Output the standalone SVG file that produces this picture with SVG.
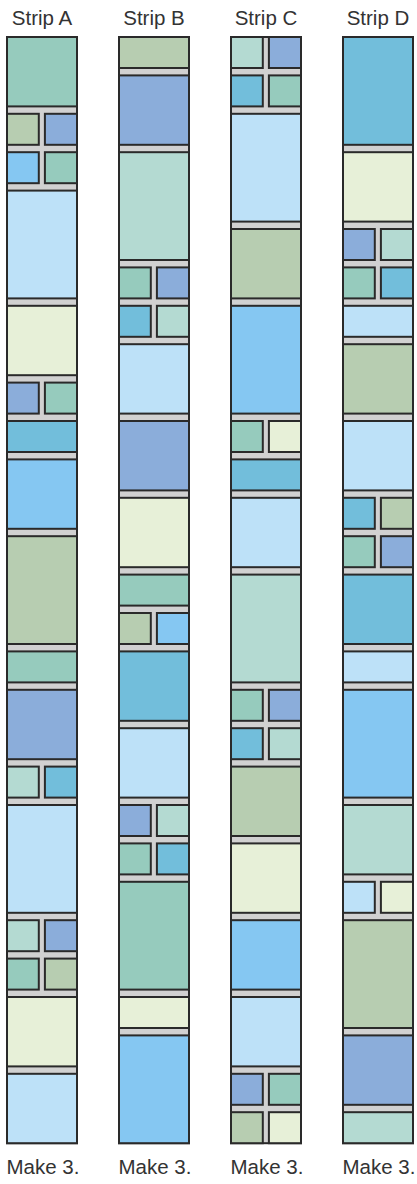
<svg xmlns="http://www.w3.org/2000/svg" width="417" height="1184" viewBox="0 0 417 1184">
<style>
rect{stroke:#2a2a2a;stroke-width:2}
.bg{fill:#d1d1d1}
.t{fill:#96cbbd}.g{fill:#b7cdb1}.b{fill:#8badda}.k{fill:#85c7f2}
.l{fill:#b4dad2}.c{fill:#72bedb}.w{fill:#bde1f8}.y{fill:#e7f0d8}
text{font-family:"Liberation Sans",Arial,sans-serif;font-size:20.5px;fill:#333;text-anchor:middle}
</style>
<rect width="417" height="1184" fill="#fff" style="stroke:none"/>
<g id="labels">
<text x="42" y="25">Strip A</text><text x="154" y="25">Strip B</text><text x="266" y="25">Strip C</text><text x="378" y="25">Strip D</text>
<text x="43" y="1174">Make 3.</text><text x="155" y="1174">Make 3.</text><text x="267" y="1174">Make 3.</text><text x="379" y="1174">Make 3.</text>
</g>
<g id="stripA" transform="translate(7,0)">
<rect class="bg" x="0" y="37" width="70" height="1106.2"/>
<rect class="t" x="0" y="37" width="70" height="69.4"/>
<rect class="g" x="0" y="113.8" width="31.8" height="31"/><rect class="b" x="37.9" y="113.8" width="32.1" height="31"/>
<rect class="k" x="0" y="152.2" width="31.8" height="31"/><rect class="t" x="37.9" y="152.2" width="32.1" height="31"/>
<rect class="w" x="0" y="190.6" width="70" height="107.8"/>
<rect class="y" x="0" y="305.8" width="70" height="69.4"/>
<rect class="b" x="0" y="382.6" width="31.8" height="31"/><rect class="t" x="37.9" y="382.6" width="32.1" height="31"/>
<rect class="c" x="0" y="421" width="70" height="31"/>
<rect class="k" x="0" y="459.4" width="70" height="69.4"/>
<rect class="g" x="0" y="536.2" width="70" height="107.8"/>
<rect class="t" x="0" y="651.4" width="70" height="31"/>
<rect class="b" x="0" y="689.8" width="70" height="69.4"/>
<rect class="l" x="0" y="766.6" width="31.8" height="31"/><rect class="c" x="37.9" y="766.6" width="32.1" height="31"/>
<rect class="w" x="0" y="805" width="70" height="107.8"/>
<rect class="l" x="0" y="920.2" width="31.8" height="31"/><rect class="b" x="37.9" y="920.2" width="32.1" height="31"/>
<rect class="t" x="0" y="958.6" width="31.8" height="31"/><rect class="g" x="37.9" y="958.6" width="32.1" height="31"/>
<rect class="y" x="0" y="997" width="70" height="69.4"/>
<rect class="w" x="0" y="1073.8" width="70" height="69.4"/>
</g>
<g id="stripB" transform="translate(119,0)">
<rect class="bg" x="0" y="37" width="70" height="1106.2"/>
<rect class="g" x="0" y="37" width="70" height="31"/>
<rect class="b" x="0" y="75.4" width="70" height="69.4"/>
<rect class="l" x="0" y="152.2" width="70" height="107.8"/>
<rect class="t" x="0" y="267.4" width="31.8" height="31"/><rect class="b" x="37.9" y="267.4" width="32.1" height="31"/>
<rect class="c" x="0" y="305.8" width="31.8" height="31"/><rect class="l" x="37.9" y="305.8" width="32.1" height="31"/>
<rect class="w" x="0" y="344.2" width="70" height="69.4"/>
<rect class="b" x="0" y="421" width="70" height="69.4"/>
<rect class="y" x="0" y="497.8" width="70" height="69.4"/>
<rect class="t" x="0" y="574.6" width="70" height="31"/>
<rect class="g" x="0" y="613" width="31.8" height="31"/><rect class="k" x="37.9" y="613" width="32.1" height="31"/>
<rect class="c" x="0" y="651.4" width="70" height="69.4"/>
<rect class="w" x="0" y="728.2" width="70" height="69.4"/>
<rect class="b" x="0" y="805" width="31.8" height="31"/><rect class="l" x="37.9" y="805" width="32.1" height="31"/>
<rect class="t" x="0" y="843.4" width="31.8" height="31"/><rect class="c" x="37.9" y="843.4" width="32.1" height="31"/>
<rect class="t" x="0" y="881.8" width="70" height="107.8"/>
<rect class="y" x="0" y="997" width="70" height="31"/>
<rect class="k" x="0" y="1035.4" width="70" height="107.8"/>
</g>
<g id="stripC" transform="translate(231,0)">
<rect class="bg" x="0" y="37" width="70" height="1106.2"/>
<rect class="l" x="0" y="37" width="31.8" height="31"/><rect class="b" x="37.9" y="37" width="32.1" height="31"/>
<rect class="c" x="0" y="75.4" width="31.8" height="31"/><rect class="t" x="37.9" y="75.4" width="32.1" height="31"/>
<rect class="w" x="0" y="113.8" width="70" height="107.8"/>
<rect class="g" x="0" y="229" width="70" height="69.4"/>
<rect class="k" x="0" y="305.8" width="70" height="107.8"/>
<rect class="t" x="0" y="421" width="31.8" height="31"/><rect class="y" x="37.9" y="421" width="32.1" height="31"/>
<rect class="c" x="0" y="459.4" width="70" height="31"/>
<rect class="w" x="0" y="497.8" width="70" height="69.4"/>
<rect class="l" x="0" y="574.6" width="70" height="107.8"/>
<rect class="t" x="0" y="689.8" width="31.8" height="31"/><rect class="b" x="37.9" y="689.8" width="32.1" height="31"/>
<rect class="c" x="0" y="728.2" width="31.8" height="31"/><rect class="l" x="37.9" y="728.2" width="32.1" height="31"/>
<rect class="g" x="0" y="766.6" width="70" height="69.4"/>
<rect class="y" x="0" y="843.4" width="70" height="69.4"/>
<rect class="k" x="0" y="920.2" width="70" height="69.4"/>
<rect class="w" x="0" y="997" width="70" height="69.4"/>
<rect class="b" x="0" y="1073.8" width="31.8" height="31"/><rect class="t" x="37.9" y="1073.8" width="32.1" height="31"/>
<rect class="g" x="0" y="1112.2" width="31.8" height="31"/><rect class="y" x="37.9" y="1112.2" width="32.1" height="31"/>
</g>
<g id="stripD" transform="translate(343,0)">
<rect class="bg" x="0" y="37" width="70" height="1106.2"/>
<rect class="c" x="0" y="37" width="70" height="107.8"/>
<rect class="y" x="0" y="152.2" width="70" height="69.4"/>
<rect class="b" x="0" y="229" width="31.8" height="31"/><rect class="l" x="37.9" y="229" width="32.1" height="31"/>
<rect class="t" x="0" y="267.4" width="31.8" height="31"/><rect class="c" x="37.9" y="267.4" width="32.1" height="31"/>
<rect class="w" x="0" y="305.8" width="70" height="31"/>
<rect class="g" x="0" y="344.2" width="70" height="69.4"/>
<rect class="w" x="0" y="421" width="70" height="69.4"/>
<rect class="c" x="0" y="497.8" width="31.8" height="31"/><rect class="g" x="37.9" y="497.8" width="32.1" height="31"/>
<rect class="t" x="0" y="536.2" width="31.8" height="31"/><rect class="b" x="37.9" y="536.2" width="32.1" height="31"/>
<rect class="c" x="0" y="574.6" width="70" height="69.4"/>
<rect class="w" x="0" y="651.4" width="70" height="31"/>
<rect class="k" x="0" y="689.8" width="70" height="107.8"/>
<rect class="l" x="0" y="805" width="70" height="69.4"/>
<rect class="w" x="0" y="881.8" width="31.8" height="31"/><rect class="y" x="37.9" y="881.8" width="32.1" height="31"/>
<rect class="g" x="0" y="920.2" width="70" height="107.8"/>
<rect class="b" x="0" y="1035.4" width="70" height="69.4"/>
<rect class="l" x="0" y="1112.2" width="70" height="31"/>
</g>
</svg>
